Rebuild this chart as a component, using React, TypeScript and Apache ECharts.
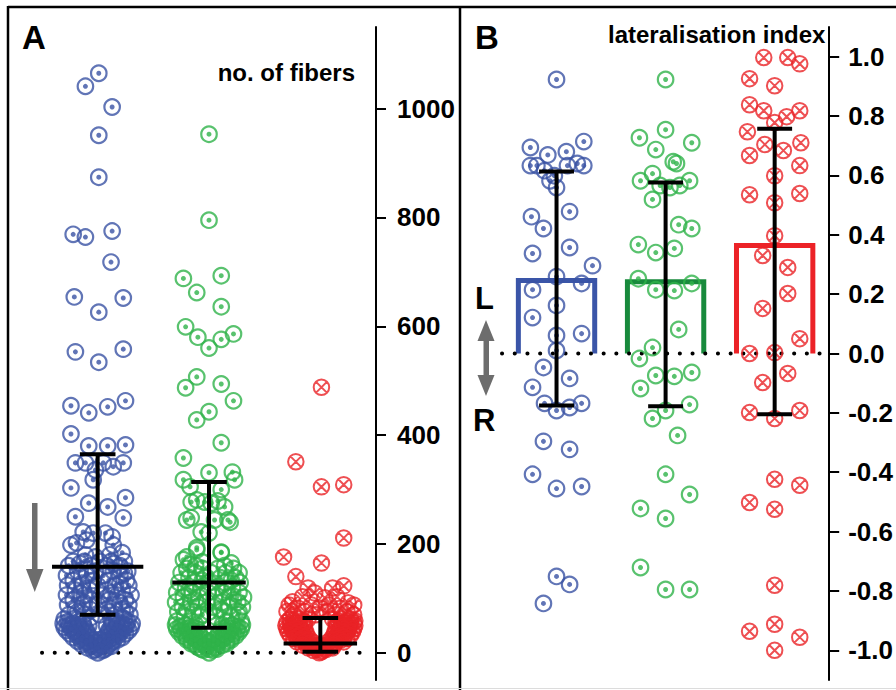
import React, { useEffect, useRef } from "react";
import * as echarts from "echarts";

// ---------------- DATA ----------------
// Panel A: number of fibers, [jitter offset in category units, value]
const A_BLUE: number[][] = [
  [0.01,1065],[-0.11,1041],[0.13,1003],[0.01,951],[0.01,874],[-0.22,769],[-0.11,764],[0.13,775],[0.12,718],
  [-0.21,654],[0.23,652],[0.01,626],[-0.2,553],[0.01,534],[0.23,558],[-0.24,454],[-0.08,441],[0.09,452],[0.25,463],
  [-0.24,402],[-0.08,380],[0.09,380],[0.25,382],
  [-0.2,349],[-0.11,349],[-0.02,336],[0.05,349],[0.14,342],[0.23,349],[-0.04,318],[-0.24,303],[-0.08,275],[0.09,268],
  [0.25,285],[-0.2,250],[0.23,248],[-0.13,222],[-0.04,220],[0.07,220],[0.13,213],[-0.19,202],[-0.1,207],[0.14,198],
  [-0.24,198],[-0.11,180],[-0.02,176],[0.11,180],[0.22,184],
  [-0.22,168],[-0.12,168],[0.02,168],[0.12,168],[0.24,168],
  [-0.26,160],[-0.06,160],[0.08,160],[0.2,160],[-0.16,164],[0.15,164],
  [-0.18,150],[-0.02,150],[0.14,150],[0.27,150],[-0.1,146],[0.24,146],
  [-0.28,142],[-0.1,142],[0.05,142],[0.2,142],
  [-0.22,133],[-0.04,133],[0.1,133],[0.26,133],[-0.14,128],[0.2,128],
  [-0.27,124],[-0.14,124],[0.0,124],[0.16,124],[0.28,124],
  [-0.2,115],[-0.07,115],[0.08,115],[0.22,115],[-0.16,110],[0.12,110],
  [-0.28,106],[-0.12,106],[0.03,106],[0.18,106],[0.3,106],
  [-0.22,97],[-0.06,97],[0.1,97],[0.25,97],[-0.12,92],[0.2,92],
  [-0.27,88],[-0.14,88],[0.0,88],[0.15,88],[0.28,88],
  [-0.2,79],[-0.06,79],[0.08,79],[0.22,79],[-0.18,75],[0.1,75],[0.25,75],
  [-0.26,70],[-0.12,70],[0.02,70],[0.16,70],[0.29,70],[-0.06,65],
  [-0.3,62],[-0.18,62],[0.12,62],[0.24,62],
  [-0.27,57],[-0.17,57],[0.17,57],[0.27,57],
  [-0.31,54],[-0.22,54],[-0.13,54],[0.13,54],[0.22,54],[0.31,54],
  [-0.26,50],[-0.17,50],[-0.08,50],[0.08,50],[0.17,50],[0.26,50],
  [-0.3,47],[-0.21,47],[-0.12,47],[0.12,47],[0.21,47],[0.3,47],
  [-0.24,44],[-0.15,44],[0.15,44],[0.24,44],
  [-0.28,41],[-0.19,41],[-0.1,41],[0.1,41],[0.19,41],[0.28,41],
  [-0.21,38],[-0.13,38],[0.13,38],[0.21,38],
  [-0.25,35],[-0.17,35],[-0.09,35],[0.09,35],[0.17,35],[0.25,35],
  [-0.18,31],[-0.1,31],[0.1,31],[0.18,31],
  [-0.22,28],[-0.14,28],[-0.06,28],[0.06,28],[0.14,28],[0.22,28],
  [-0.15,24],[-0.06,24],[0.02,24],[0.1,24],[0.18,24],
  [-0.18,21],[-0.1,21],[-0.02,21],[0.06,21],[0.14,21],
  [-0.11,18],[-0.02,18],[0.06,18],[0.12,18],
  [-0.14,15],[-0.06,15],[0.02,15],[0.1,15],
  [-0.06,12],[0.04,12],[0.12,12],
  [-0.09,9],[0.0,9],[0.08,9],
  [-0.02,6],[0.06,6],
  [-0.04,4],[0.04,4],
  [0.0,0],
];
const A_GREEN: number[][] = [
  [0,953],[0,795],[-0.23,688],[-0.11,662],[0.11,693],[0.11,636],[-0.21,599],[-0.1,580],[0.11,576],[0.22,586],[0,560],
  [-0.21,487],[-0.11,507],[0.11,494],[0.22,463],[-0.11,428],[0,443],[0.11,386],[-0.23,358],[0,331],[-0.23,318],
  [0.21,332],[0.23,318],
  [-0.17,305],[0.11,300],[-0.11,281],[-0.04,277],[0.02,275],[0.08,279],[0.14,268],[-0.16,277],[-0.16,248],[0.05,244],
  [0.17,244],[-0.2,244],[0.19,240],[-0.07,222],[0,220],[-0.11,193],[0.11,185],[-0.2,176],
  [-0.11,189],[0.11,184],[-0.23,171],[0.2,165],[-0.17,162],[-0.06,167],
  [-0.2,155],[-0.06,155],[0.08,155],[0.22,155],[-0.12,160],[0.14,160],
  [-0.25,147],[-0.12,147],[0.02,147],[0.15,147],[0.27,147],
  [-0.18,138],[-0.04,138],[0.1,138],[0.24,138],[-0.06,133],[0.2,133],
  [-0.27,129],[-0.13,129],[0.0,129],[0.14,129],[0.28,129],
  [-0.21,120],[-0.07,120],[0.07,120],[0.21,120],[-0.18,115],[0.16,115],
  [-0.29,111],[-0.15,111],[-0.01,111],[0.13,111],[0.27,111],
  [-0.23,102],[-0.09,102],[0.05,102],[0.19,102],[0.31,102],[-0.12,97],[0.22,97],
  [-0.3,93],[-0.16,93],[-0.02,93],[0.12,93],[0.26,93],
  [-0.24,84],[-0.1,84],[0.04,84],[0.18,84],[0.3,84],[-0.2,80],[0.1,80],
  [-0.28,75],[-0.14,75],[0.0,75],[0.14,75],[0.27,75],
  [-0.22,66],[-0.08,66],[0.06,66],[0.2,66],[-0.06,70],[0.26,70],
  [-0.29,58],[-0.16,58],[0.16,58],[0.29,58],
  [-0.3,51],[-0.21,51],[-0.12,51],[0.12,51],[0.21,51],[0.3,51],
  [-0.26,48],[-0.16,48],[0.16,48],[0.26,48],
  [-0.29,44],[-0.2,44],[-0.11,44],[0.11,44],[0.2,44],[0.29,44],
  [-0.25,41],[-0.15,41],[0.15,41],[0.25,41],
  [-0.27,38],[-0.18,38],[-0.09,38],[0.09,38],[0.18,38],[0.27,38],
  [-0.22,35],[-0.13,35],[0.13,35],[0.22,35],
  [-0.24,31],[-0.16,31],[-0.08,31],[0.08,31],[0.16,31],[0.24,31],
  [-0.2,28],[-0.1,28],[0.1,28],[0.2,28],
  [-0.2,24],[-0.12,24],[-0.04,24],[0.04,24],[0.12,24],[0.2,24],
  [-0.16,21],[-0.08,21],[0.0,21],[0.08,21],[0.16,21],
  [-0.16,17],[-0.08,17],[0.0,17],[0.08,17],[0.16,17],
  [-0.12,14],[-0.04,14],[0.04,14],[0.12,14],
  [-0.1,10],[-0.02,10],[0.06,10],
  [-0.07,7],[0.0,7],[0.07,7],
  [-0.05,5],[0.03,5],
  [0.0,0],
];
const A_RED: number[][] = [
  [0.01,488],[-0.22,351],[0.01,305],[0.21,309],[0.21,211],[-0.33,176],[0.01,165],[-0.22,140],[0.21,123],
  [-0.11,119],[0.11,119],[-0.25,94],[-0.16,103],[-0.05,110],[0.04,101],[0.15,103],[0.25,92],
  [-0.28,88],[-0.08,88],[0.08,88],[0.3,88],
  [-0.2,82],[0.0,82],[0.18,82],
  [-0.3,76],[-0.14,76],[0.06,76],[0.24,76],
  [-0.24,70],[-0.04,70],[0.14,70],[0.3,70],
  [-0.27,62],[-0.19,62],[-0.11,62],[0.11,62],[0.19,62],[0.27,62],
  [-0.24,59],[-0.16,59],[0.16,59],[0.24,59],[0.31,59],
  [-0.3,56],[-0.22,56],[-0.14,56],[0.14,56],[0.22,56],[0.3,56],
  [-0.27,53],[-0.19,53],[0.19,53],[0.27,53],
  [-0.31,50],[-0.23,50],[-0.15,50],[0.15,50],[0.23,50],[0.31,50],
  [-0.26,47],[-0.18,47],[0.18,47],[0.26,47],
  [-0.3,44],[-0.22,44],[-0.14,44],[0.14,44],[0.22,44],[0.3,44],
  [-0.25,41],[-0.17,41],[0.17,41],[0.25,41],
  [-0.29,38],[-0.21,38],[-0.13,38],[0.13,38],[0.21,38],[0.29,38],
  [-0.23,35],[-0.16,35],[0.16,35],[0.23,35],
  [-0.27,32],[-0.19,32],[-0.12,32],[0.12,32],[0.19,32],[0.27,32],
  [-0.21,29],[-0.14,29],[0.14,29],[0.21,29],
  [-0.24,26],[-0.17,26],[-0.1,26],[0.1,26],[0.17,26],[0.24,26],
  [-0.18,23],[-0.11,23],[0.11,23],[0.18,23],
  [-0.21,20],[-0.14,20],[-0.07,20],[0.07,20],[0.14,20],[0.21,20],
  [-0.13,17],[-0.1,17],[0.1,17],[0.13,17],
  [-0.16,14],[-0.09,14],[-0.02,14],[0.05,14],[0.12,14],
  [-0.08,11],[0.0,11],[0.08,11],
  [-0.11,9],[-0.04,9],[0.04,9],[0.11,9],
  [-0.03,6],[0.05,6],
  [-0.06,4],[0.02,4],
  [0.01,2],[-0.01,0],
];
// Panel A summary: mean (centre line) and error bar ends
const A_MEAN = [158, 129, 17];
const A_LOW = [70, 46, 2];
const A_HIGH = [365, 314, 64];

// Panel B: lateralisation index
const B_BLUE: number[][] = [
  [0,0.923],[-0.24,0.694],[-0.08,0.669],[0.09,0.68],[0.25,0.714],[-0.24,0.633],[-0.18,0.633],[-0.11,0.616],[-0.02,0.599],
  [0.1,0.633],[0.19,0.64],[0.25,0.633],[-0.06,0.582],[0,0.559],[-0.23,0.461],[-0.12,0.421],[0.12,0.478],[-0.22,0.337],
  [0.12,0.357],[0.33,0.296],[0,0.259],[0.23,0.236],[-0.22,0.215],[0,0.162],[-0.22,0.121],[0,0.061],[0.23,0.067],[0,0.01],
  [-0.12,-0.047],[0.12,-0.084],[-0.22,-0.114],[-0.11,-0.168],[0,-0.192],[0.12,-0.182],[0.23,-0.168],[-0.12,-0.296],
  [0.12,-0.323],[-0.22,-0.407],[0,-0.455],[0.23,-0.448],[0,-0.751],[0.12,-0.778],[-0.12,-0.842],
];
const B_GREEN: number[][] = [
  [0,0.923],[0,0.754],[-0.24,0.727],[0.24,0.71],[-0.09,0.687],[0.07,0.646],[0.1,0.64],[-0.12,0.606],[-0.23,0.582],
  [-0.05,0.566],[0.04,0.559],[0.13,0.566],[0.22,0.582],[-0.12,0.519],[0.12,0.434],[0.24,0.421],[-0.25,0.367],[-0.09,0.34],
  [0.08,0.354],[-0.25,0.252],[-0.09,0.215],[0.08,0.212],[0.24,0.236],[0.12,0.081],[-0.12,0.02],[-0.24,-0.017],
  [-0.09,-0.074],[0.08,-0.077],[0.24,-0.064],[-0.23,-0.118],[0,-0.192],[0.22,-0.172],[-0.12,-0.219],[0.11,-0.276],
  [0,-0.407],[0.22,-0.475],[-0.23,-0.522],[0,-0.556],[-0.23,-0.721],[0,-0.795],[0.22,-0.795],
];
const B_RED: number[][] = [
  [-0.1,0.997],[0.12,0.997],[0.23,0.976],[-0.23,0.926],[0,0.902],[-0.23,0.838],[-0.1,0.818],[0.23,0.818],[0.11,0.798],
  [0,0.778],[-0.25,0.747],[-0.09,0.704],[0.08,0.684],[0.24,0.71],[-0.23,0.667],[0.23,0.633],[0,0.599],[-0.23,0.535],
  [0.23,0.539],[0,0.508],[0,0.397],[-0.11,0.33],[0.12,0.29],[0.12,0.202],[-0.11,0.152],[0.23,0.05],[-0.23,0.0],[0,0.003],
  [0.12,-0.067],[-0.11,-0.098],[-0.23,-0.199],[0,-0.219],[0.23,-0.192],[0,-0.424],[0.23,-0.444],[-0.23,-0.502],
  [0,-0.525],[0,-0.781],[-0.23,-0.936],[0,-0.912],[0.23,-0.956],[0,-1.0],
];
const B_MEAN = [0.246, 0.242, 0.364];
const B_LOW = [-0.175, -0.178, -0.205];
const B_HIGH = [0.613, 0.576, 0.757];

const A_TICKS = [0, 200, 400, 600, 800, 1000];
const B_TICKS = [-1, -0.8, -0.6, -0.4, -0.2, 0, 0.2, 0.4, 0.6, 0.8, 1];

// ---------------- STYLE ----------------
const FONT = '"Liberation Sans", Arial, Helvetica, sans-serif';
const BLUE = "#3a53a4";
const GREEN = "#2fb34a";
const RED = "#ea2327";
const BAR_COLORS = ["#3a55a8", "#188a3c", "#ec2227"];
const GRAY = "#6d6d6d";
const A_MEAN_HALF = [0.41, 0.33, 0.33];
const CAP_HALF = 0.16;
const BAR_HALF = 0.35;
const RED_SYMBOL =
  "path://M7.5,0A7.5,7.5,0,1,1,7.5,15A7.5,7.5,0,1,1,7.5,0ZM2.3,2.3L12.7,12.7M12.7,2.3L2.3,12.7";

const place = (pts: number[][], g: number) => pts.map(([o, v]) => [g + o, v]);

function ringSeries(idx: number, data: number[][], color: string) {
  return [
    {
      type: "scatter", xAxisIndex: idx, yAxisIndex: idx, data, symbol: "circle", symbolSize: 15.5,
      itemStyle: { color: "rgba(0,0,0,0)", borderColor: color, borderWidth: 2.2 }, z: 3, silent: true,
    },
    {
      type: "scatter", xAxisIndex: idx, yAxisIndex: idx, data, symbol: "circle", symbolSize: 5,
      itemStyle: { color }, z: 3, silent: true,
    },
  ];
}
function crossSeries(idx: number, data: number[][]) {
  return {
    type: "scatter", xAxisIndex: idx, yAxisIndex: idx, data, symbol: RED_SYMBOL, symbolSize: 15.5,
    itemStyle: { color: "rgba(0,0,0,0)", borderColor: RED, borderWidth: 2 }, z: 3, silent: true,
  };
}
function dotted(idx: number) {
  return {
    type: "line", xAxisIndex: idx, yAxisIndex: idx, data: [[0.5, 0], [3.46, 0]], symbol: "none", silent: true,
    lineStyle: { color: "#000", width: 4, type: [0.1, 12.6], cap: "round" }, z: 2,
  };
}
function errorSeries(idx: number, mean: number[], low: number[], high: number[], meanHalf: number[] | null) {
  return {
    type: "custom", xAxisIndex: idx, yAxisIndex: idx, silent: true, z: 6,
    data: mean.map((m, i) => [i + 1, m, low[i], high[i]]),
    renderItem: (params: any, api: any) => {
      const x = api.value(0), m = api.value(1), lo = api.value(2), hi = api.value(3);
      const st = { stroke: "#000", lineWidth: 4 };
      const top = api.coord([x, hi]), bot = api.coord([x, lo]);
      const ch: any[] = [
        { type: "line", shape: { x1: top[0], y1: top[1], x2: bot[0], y2: bot[1] }, style: st },
      ];
      const tl = api.coord([x - CAP_HALF, hi]), tr = api.coord([x + CAP_HALF, hi]);
      const bl = api.coord([x - CAP_HALF, lo]), br = api.coord([x + CAP_HALF, lo]);
      ch.push({ type: "line", shape: { x1: tl[0], y1: tl[1], x2: tr[0], y2: tr[1] }, style: st });
      ch.push({ type: "line", shape: { x1: bl[0], y1: bl[1], x2: br[0], y2: br[1] }, style: st });
      if (meanHalf) {
        const w = meanHalf[params.dataIndex];
        const ml = api.coord([x - w, m]), mr = api.coord([x + w, m]);
        ch.push({ type: "line", shape: { x1: ml[0], y1: ml[1], x2: mr[0], y2: mr[1] }, style: st });
      }
      return { type: "group", children: ch };
    },
  };
}
function barSeries(idx: number, mean: number[]) {
  return {
    type: "custom", xAxisIndex: idx, yAxisIndex: idx, silent: true, z: 1,
    data: mean.map((m, i) => [i + 1, m]),
    renderItem: (params: any, api: any) => {
      const x = api.value(0), m = api.value(1);
      const pts = [
        api.coord([x - BAR_HALF, 0]), api.coord([x - BAR_HALF, m]),
        api.coord([x + BAR_HALF, m]), api.coord([x + BAR_HALF, 0]),
      ];
      return {
        type: "polyline", shape: { points: pts },
        style: { stroke: BAR_COLORS[params.dataIndex], lineWidth: 5, fill: "none", lineJoin: "miter" },
      };
    },
  };
}
function yAxis(idx: number, min: number, max: number, ticks: number[], fmt: (v: number) => string, margin: number) {
  return {
    type: "value", gridIndex: idx, position: "right", min, max,
    splitLine: { show: false },
    axisLine: { show: true, onZero: false, lineStyle: { color: "#000", width: 2 } },
    axisTick: { show: true, customValues: ticks, length: 10, lineStyle: { color: "#000", width: 2 } },
    axisLabel: {
      customValues: ticks, formatter: fmt, margin, color: "#000",
      fontFamily: FONT, fontWeight: "bold", fontSize: 26,
    },
  };
}
function text(t: string, x: number, y: number, size: number, align = "left") {
  return {
    type: "text", x, y, silent: true,
    style: {
      text: t, font: `bold ${size}px ${FONT}`, fill: "#000",
      textAlign: align, textVerticalAlign: "middle", align, verticalAlign: "middle",
    },
  };
}

export default function App() {
  const ref = useRef<HTMLDivElement>(null);
  useEffect(() => {
    if (!ref.current) return;
    const chart = echarts.init(ref.current, null, { renderer: "svg" });
    const option: any = {
      animation: false,
      backgroundColor: "#fff",
      grid: [
        { left: 42, top: 27, width: 334, height: 653 },
        { left: 502, top: 27, width: 333, height: 653 },
      ],
      xAxis: [
        { type: "value", gridIndex: 0, min: 0.5, max: 3.5, show: false },
        { type: "value", gridIndex: 1, min: 0.5, max: 3.5, show: false },
      ],
      yAxis: [
        yAxis(0, -50, 1150, A_TICKS, (v: number) => String(v), 21),
        yAxis(1, -1.1, 1.1, B_TICKS, (v: number) => v.toFixed(1), 19),
      ],
      series: [
        dotted(0),
        ...ringSeries(0, place(A_BLUE, 1), BLUE),
        ...ringSeries(0, place(A_GREEN, 2), GREEN),
        crossSeries(0, place(A_RED, 3)),
        errorSeries(0, A_MEAN, A_LOW, A_HIGH, A_MEAN_HALF),
        barSeries(1, B_MEAN),
        dotted(1),
        ...ringSeries(1, place(B_BLUE, 1), BLUE),
        ...ringSeries(1, place(B_GREEN, 2), GREEN),
        crossSeries(1, place(B_RED, 3)),
        errorSeries(1, B_MEAN, B_LOW, B_HIGH, null),
      ],
      graphic: [
        { type: "line", shape: { x1: 8, y1: 7, x2: 896, y2: 7 }, style: { stroke: "#000", lineWidth: 2.5 }, silent: true },
        { type: "line", shape: { x1: 8, y1: 6, x2: 8, y2: 690 }, style: { stroke: "#000", lineWidth: 2.5 }, silent: true },
        { type: "line", shape: { x1: 460, y1: 6, x2: 460, y2: 690 }, style: { stroke: "#000", lineWidth: 2.5 }, silent: true },
        { type: "line", shape: { x1: 0, y1: 688.5, x2: 896, y2: 688.5 }, style: { stroke: "#dcdcdc", lineWidth: 1 }, silent: true },
        text("A", 22, 37, 33),
        text("B", 475, 37, 33),
        text("no. of fibers", 355, 72, 24, "right"),
        text("lateralisation index", 608, 34, 24),
        text("L", 475, 298, 31),
        text("R", 473, 420, 31),
        // panel A down arrow
        { type: "rect", shape: { x: 32, y: 503, width: 5.5, height: 69 }, style: { fill: GRAY }, silent: true },
        { type: "polygon", shape: { points: [[26, 569], [43.5, 569], [34.75, 592]] }, style: { fill: GRAY }, silent: true },
        // panel B double arrow
        { type: "rect", shape: { x: 483.5, y: 338, width: 5.5, height: 40 }, style: { fill: GRAY }, silent: true },
        { type: "polygon", shape: { points: [[477.5, 341], [494.5, 341], [486, 320]] }, style: { fill: GRAY }, silent: true },
        { type: "polygon", shape: { points: [[477.5, 375], [494.5, 375], [486, 396]] }, style: { fill: GRAY }, silent: true },
      ],
    };
    chart.setOption(option);
    return () => chart.dispose();
  }, []);
  return (
    <div
      ref={ref}
      style={{ position: "fixed", left: 0, top: 0, width: 896, height: 690, background: "#fff" }}
    />
  );
}
